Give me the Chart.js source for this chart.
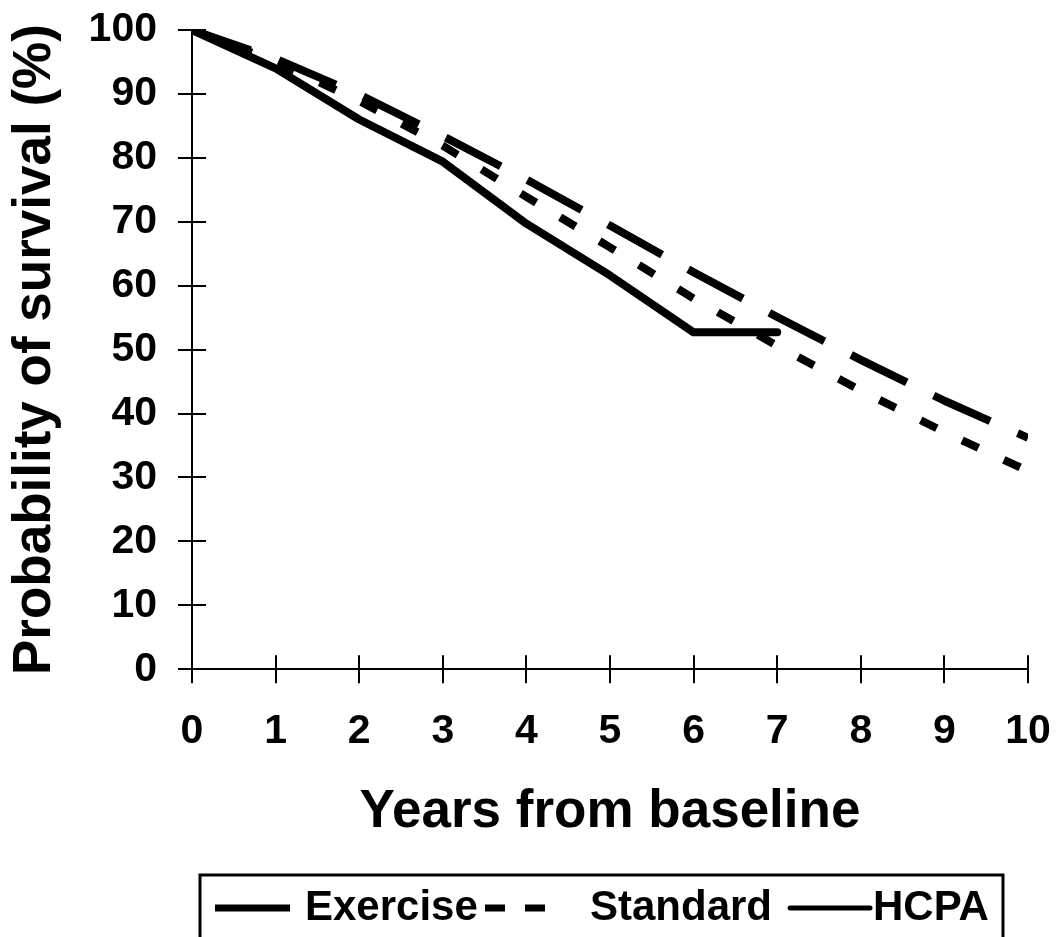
<!DOCTYPE html>
<html>
<head>
<meta charset="utf-8">
<script src="https://cdn.jsdelivr.net/npm/chart.js@4/dist/chart.umd.min.js"></script>
<style>
  html, body { margin: 0; padding: 0; background: #fff; }
  #wrap { width: 1056px; height: 937px; }
</style>
</head>
<body>
<div id="wrap"><canvas id="survival-chart" width="1056" height="937"></canvas></div>
<script>
// years from baseline
const years = [0, 1, 2, 3, 4, 5, 6, 7, 8, 9, 10];
// probability of survival (%)
const exercise = [100, 95.5, 89.9, 83.4, 76.6, 69.4, 62.1, 55.1, 48.4, 42.0, 36.2];
const standard = [100, 95.0, 88.9, 81.9, 73.9, 66.0, 58.0, 50.6, 43.6, 37.1, 31.0];
const hcpaYears = [0, 1, 2, 3, 4, 5, 6, 7];
const hcpa = [100, 94.0, 86.0, 79.4, 69.7, 61.6, 52.7, 52.7];
const yTicks = [0, 10, 20, 30, 40, 50, 60, 70, 80, 90, 100];

const FONT = "'Liberation Sans', Arial, Helvetica, sans-serif";
const TICK = 14; // half length of the crossing tick marks

function points(xs, ys) {
    return xs.map((x, i) => ({ x: x, y: ys[i] }));
}

// tick marks that cross the axis lines
const crossTicks = {
    id: 'crossTicks',
    afterDraw(chart) {
        const ctx = chart.ctx;
        const area = chart.chartArea;
        const xs = chart.scales.x, ys = chart.scales.y;
        ctx.save();
        ctx.strokeStyle = '#000';
        ctx.lineWidth = 2;
        ctx.beginPath();
        xs.ticks.forEach(t => {
            const px = Math.round(xs.getPixelForValue(t.value));
            ctx.moveTo(px, area.bottom + TICK);
            ctx.lineTo(px, area.bottom - TICK);
        });
        ys.ticks.forEach(t => {
            const py = Math.round(ys.getPixelForValue(t.value));
            ctx.moveTo(area.left - TICK, py);
            ctx.lineTo(area.left + TICK, py);
        });
        ctx.stroke();
        ctx.restore();
    }
};

// boxed legend under the axis title
const boxLegend = {
    id: 'boxLegend',
    afterDraw(chart) {
        const ctx = chart.ctx;
        const top = 875, left = 200, width = 803;
        const midY = 908;
        ctx.save();
        ctx.strokeStyle = '#000';
        ctx.lineWidth = 3;
        ctx.strokeRect(left, top, width, 100);
        ctx.font = 'bold 42px ' + FONT;
        ctx.fillStyle = '#000';
        ctx.textBaseline = 'middle';
        const slots = [215, 485, 790];
        chart.data.datasets.forEach((ds, i) => {
            const x0 = slots[i];
            ctx.beginPath();
            ctx.lineWidth = ds.legendWidth;
            ctx.lineCap = ds.legendCap;
            ctx.setLineDash(ds.legendDash);
            ctx.moveTo(x0, midY);
            ctx.lineTo(x0 + ds.legendLength, midY);
            ctx.stroke();
            ctx.setLineDash([]);
            ctx.fillText(ds.label, x0 + ds.legendLength + ds.legendGap, midY);
        });
        ctx.restore();
    }
};

const chart = new Chart(document.getElementById('survival-chart').getContext('2d'), {
    type: 'line',
    data: {
        datasets: [
            {
                label: 'Exercise',
                data: points(years, exercise),
                borderColor: '#000',
                borderWidth: 8,
                borderDash: [62, 30],
                borderCapStyle: 'butt',
                legendDash: [75, 100], legendLength: 75, legendGap: 15, legendWidth: 7, legendCap: 'butt'
            },
            {
                label: 'Standard',
                data: points(years, standard),
                borderColor: '#000',
                borderWidth: 8,
                borderDash: [18, 28],
                borderCapStyle: 'butt',
                legendDash: [20, 20], legendLength: 63, legendGap: 42, legendWidth: 7, legendCap: 'butt'
            },
            {
                label: 'HCPA',
                data: points(hcpaYears, hcpa),
                borderColor: '#000',
                borderWidth: 8,
                borderCapStyle: 'round',
                legendDash: [], legendLength: 80, legendGap: 3, legendWidth: 5, legendCap: 'round'
            }
        ]
    },
    options: {
        responsive: false,
        animation: false,
        devicePixelRatio: 1,
        elements: {
            line: { tension: 0, borderJoinStyle: 'round', fill: false },
            point: { radius: 0, hoverRadius: 0 }
        },
        layout: { padding: { left: 4, top: 30, right: 28, bottom: 93 } },
        plugins: {
            legend: { display: false },
            tooltip: { enabled: false }
        },
        scales: {
            x: {
                type: 'linear',
                min: 0,
                max: 10,
                ticks: {
                    stepSize: 1,
                    padding: 0,
                    color: '#000',
                    font: { family: FONT, size: 41, weight: 'bold' }
                },
                // tick marks are drawn by crossTicks; the long transparent tick keeps the label gap
                grid: { drawOnChartArea: false, drawTicks: true, tickLength: 38, color: 'rgba(0,0,0,0)' },
                border: { display: true, color: '#000', width: 2 },
                title: {
                    display: true,
                    text: 'Years from baseline',
                    color: '#000',
                    font: { family: FONT, size: 53, weight: 'bold' },
                    padding: { top: 24, bottom: 0 }
                }
            },
            y: {
                type: 'linear',
                min: 0,
                max: 100,
                afterBuildTicks(scale) {
                    scale.ticks = yTicks.map(v => ({ value: v }));
                },
                ticks: {
                    padding: 0,
                    color: '#000',
                    font: { family: FONT, size: 41, weight: 'bold' }
                },
                grid: { drawOnChartArea: false, drawTicks: true, tickLength: 35, color: 'rgba(0,0,0,0)' },
                border: { display: true, color: '#000', width: 2 },
                title: {
                    display: true,
                    text: 'Probability of survival (%)',
                    color: '#000',
                    font: { family: FONT, size: 53, weight: 'bold' },
                    padding: { top: 0, bottom: 21 }
                }
            }
        }
    },
    plugins: [crossTicks, boxLegend]
});
</script>
</body>
</html>
